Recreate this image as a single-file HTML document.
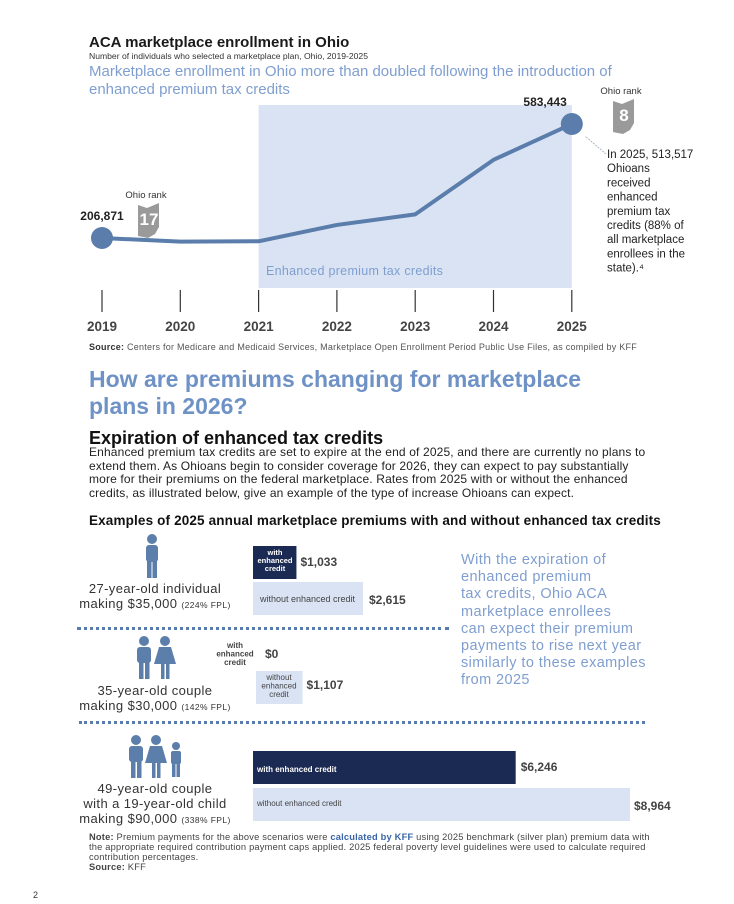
<!DOCTYPE html>
<html><head><meta charset="utf-8"><style>
body{margin:0;width:734px;height:904px;background:#fff;position:relative;font-family:"Liberation Sans",sans-serif;overflow:hidden;color:#333}
.a{position:absolute;white-space:nowrap}
.dots{position:absolute;border-top:3px dotted #5a7bb0;height:0}
</style></head><body>
<div class="a" style="left:89px;top:34px;font-size:15px;font-weight:bold;color:#1a1a1a">ACA marketplace enrollment in Ohio</div>
<div class="a" style="left:89px;top:51px;font-size:8.6px;color:#333">Number of individuals who selected a marketplace plan, Ohio, 2019-2025</div>
<div class="a" style="left:89px;top:63px;font-size:15px;line-height:18px;color:#7f9ed0">Marketplace enrollment in Ohio more than doubled following the introduction of<br>enhanced premium tax credits</div>

<svg id="chart" style="position:absolute;left:0;top:0" width="734" height="360"></svg>

<div class="a" style="left:89px;top:342px;font-size:9px;letter-spacing:0.25px;color:#555"><b style="color:#333">Source:</b> Centers for Medicare and Medicaid Services, Marketplace Open Enrollment Period Public Use Files, as compiled by KFF</div>

<div class="a" style="left:89px;top:366px;font-size:23px;line-height:27px;font-weight:bold;color:#6f92c6">How are premiums changing for marketplace<br>plans in 2026?</div>
<div class="a" style="left:89px;top:428px;font-size:18px;font-weight:bold;color:#111">Expiration of enhanced tax credits</div>
<div class="a" style="left:89px;top:446px;font-size:12px;letter-spacing:0.15px;line-height:13.5px;color:#222">Enhanced premium tax credits are set to expire at the end of 2025, and there are currently no plans to<br>extend them. As Ohioans begin to consider coverage for 2026, they can expect to pay substantially<br>more for their premiums on the federal marketplace. Rates from 2025 with or without the enhanced<br>credits, as illustrated below, give an example of the type of increase Ohioans can expect.</div>
<div class="a" style="left:89px;top:513px;font-size:13.5px;letter-spacing:0.15px;font-weight:bold;color:#111">Examples of 2025 annual marketplace premiums with and without enhanced tax credits</div>

<svg id="icons" style="position:absolute;left:0;top:0" width="734" height="904">
<g fill="#5b7eaa">
<g><circle cx="152" cy="539" r="5"/><rect x="146" y="545" width="12" height="17" rx="3"/><rect x="147" y="558" width="4.5" height="20"/><rect x="152.5" y="558" width="4.5" height="20"/></g>
<g><circle cx="144" cy="641" r="5"/><rect x="137" y="647" width="14" height="16" rx="3"/><rect x="139" y="660" width="4.5" height="19"/><rect x="145" y="660" width="4.5" height="19"/></g>
<g><circle cx="165" cy="641" r="5"/><path d="M159 647h12l5 17h-22z"/><rect x="161" y="663" width="3.5" height="16"/><rect x="166" y="663" width="3.5" height="16"/></g>
<g><circle cx="136" cy="740" r="5"/><rect x="129" y="746" width="14" height="16" rx="3"/><rect x="131" y="759" width="4.5" height="19"/><rect x="137" y="759" width="4.5" height="19"/></g>
<g><circle cx="156" cy="740" r="5"/><path d="M150 746h12l5 17h-22z"/><rect x="152" y="762" width="3.5" height="16"/><rect x="157" y="762" width="3.5" height="16"/></g>
<g><circle cx="176" cy="746" r="4"/><rect x="171" y="751" width="10" height="13" rx="2"/><rect x="172" y="762" width="3.5" height="15"/><rect x="176.5" y="762" width="3.5" height="15"/></g>
</g></svg>

<div class="a" style="left:70px;top:581px;width:170px;text-align:center;font-size:13px;letter-spacing:0.4px;line-height:15px;color:#333">27-year-old individual<br>making $35,000 <span style="font-size:8.5px">(224% FPL)</span></div>
<div class="dots" style="left:77px;top:627px;width:372px"></div>
<div class="a" style="left:70px;top:683px;width:170px;text-align:center;font-size:13px;letter-spacing:0.4px;line-height:15px;color:#333">35-year-old couple<br>making $30,000 <span style="font-size:8.5px">(142% FPL)</span></div>
<div class="dots" style="left:79px;top:721px;width:566px"></div>
<div class="a" style="left:70px;top:781px;width:170px;text-align:center;font-size:13px;letter-spacing:0.4px;line-height:15px;color:#333">49-year-old couple<br>with a 19-year-old child<br>making $90,000 <span style="font-size:8.5px">(338% FPL)</span></div>

<svg id="bars" style="position:absolute;left:0;top:0" width="734" height="904"></svg>

<div class="a" style="left:461px;top:552px;font-size:14.5px;letter-spacing:0.4px;line-height:17.2px;color:#7f9ed0">With the expiration of<br>enhanced premium<br>tax credits, Ohio ACA<br>marketplace enrollees<br>can expect their premium<br>payments to rise next year<br>similarly to these examples<br>from 2025</div>

<div class="a" style="left:89px;top:832px;font-size:9.3px;letter-spacing:0.2px;line-height:10px;color:#444"><b>Note:</b> Premium payments for the above scenarios were <b style="color:#3a64a8">calculated by KFF</b> using 2025 benchmark (silver plan) premium data with<br>the appropriate required contribution payment caps applied. 2025 federal poverty level guidelines were used to calculate required<br>contribution percentages.<br><b>Source:</b> KFF</div>
<div class="a" style="left:33px;top:890px;font-size:9px;color:#333">2</div>

<script>
const years=["2019","2020","2021","2022","2023","2024","2025"];
const enrollment=[206871,195000,196000,250000,285000,465000,583443];
const NS="http://www.w3.org/2000/svg";
function mk(p,t,a){const e=document.createElementNS(NS,t);for(const k in a)e.setAttribute(k,a[k]);p.appendChild(e);return e}
const ch=document.getElementById('chart');
const xS=i=>102+i*78.3;
const yS=v=>238-(v-206871)*(114/376572);
const sh=mk(ch,'rect',{x:xS(2),y:105,width:xS(6)-xS(2),height:183,fill:'#d9e3f3'});


const st=mk(ch,'text',{x:266,y:275,'font-size':12.5,'letter-spacing':0.3,fill:'#7f9ed0','font-family':'Liberation Sans'});st.textContent='Enhanced premium tax credits';


years.forEach((y,i)=>{
  const l=mk(ch,'line',{x1:xS(i),x2:xS(i),y1:290,y2:312,stroke:'#333','stroke-width':1.2});
  
  
  const t=mk(ch,'text',{x:xS(i),y:331,'text-anchor':'middle','font-size':13.5,'font-weight':'bold',fill:'#444','font-family':'Liberation Sans'});t.textContent=y;
  
  
});
const pl=mk(ch,'polyline',{points:enrollment.map((v,i)=>xS(i)+','+yS(v)).join(' '),fill:'none',stroke:'#5a7dab','stroke-width':4,'stroke-linejoin':'round'});


[0,6].forEach(i=>{
  const c=mk(ch,'circle',{cx:xS(i),cy:yS(enrollment[i]),r:11,fill:'#5a7dab'});
  
  
  const t=mk(ch,'text',{x:xS(i)+(i?-5:0),y:yS(enrollment[i])-18,'text-anchor':i?'end':'middle','font-size':12,'font-weight':'bold',fill:'#222','font-family':'Liberation Sans'});
  t.textContent=enrollment[i].toLocaleString('en-US');
  
  
});
function ohio(x,y,n,name){
  const g=mk(ch,'g',{});
  
  
  mk(g,'path',{d:`M${x} ${y+2}l9 3 12-5v24l-4 7-7 4-10-2z`,fill:'#9a9a9a'});
  const t=mk(g,'text',{x:x+11,y:y+22,'text-anchor':'middle','font-size':17,'font-weight':'bold',fill:'#fff','font-family':'Liberation Sans'});t.textContent=n;
  const r=mk(g,'text',{x:x+8,y:y-5,'text-anchor':'middle','font-size':9.5,fill:'#333','font-family':'Liberation Sans'});r.textContent='Ohio rank';
}
ohio(138,203,'17','ohio-rank-2019');
ohio(613,99,'8','ohio-rank-2025');
const ar=mk(ch,'line',{x1:606,y1:154,x2:585,y2:136,stroke:'#9ab','stroke-width':0.8,'stroke-dasharray':'2,1'});


const ann=["In 2025, 513,517","Ohioans","received","enhanced","premium tax","credits (88% of","all marketplace","enrollees in the","state).\u2074"];
ann.forEach((s,i)=>{const t=mk(ch,'text',{x:607,y:158+i*14.2,'font-size':11.5,fill:'#222','font-family':'Liberation Sans'});t.textContent=s;

});

// bars
const scenarios=["27-year-old","35-year-old couple","49-year-old family"];
const withCredit=[1033,0,6246];
const withoutCredit=[2615,1107,8964];
const b=document.getElementById('bars');
const bx=v=>v*(377/8964);
function lbl(x,y,lines,size,col,w,anchor){const t=mk(b,'text',{x:x,y:y,'font-size':size,fill:col,'font-weight':w||'normal','text-anchor':anchor||'start','font-family':'Liberation Sans'});
  lines.forEach((s,i)=>{const ts=mk(t,'tspan',{x:x,dy:i?size+0.5:0});ts.textContent=s;});return t;}
function val(x,y,v){const t=mk(b,'text',{x:x,y:y,'font-size':12,'font-weight':'bold',fill:'#444','font-family':'Liberation Sans'});t.textContent='$'+v.toLocaleString('en-US');
 
 }
// scenario 1
let r=mk(b,'rect',{x:253,y:546,width:bx(withCredit[0]),height:33,fill:'#1b2a52'});


lbl(275,555,['with','enhanced','credit'],7.5,'#fff','bold','middle');
val(bx(withCredit[0])+257,566,withCredit[0]);
r=mk(b,'rect',{x:253,y:582,width:bx(withoutCredit[0]),height:33,fill:'#d9e3f3'});


lbl(260,602,['without enhanced credit'],9,'#444');
val(bx(withoutCredit[0])+259,604,withoutCredit[0]);
// scenario 2
r=mk(b,'rect',{x:256,y:648,width:bx(withCredit[1]),height:20,fill:'#1b2a52'});


lbl(235,648,['with','enhanced','credit'],8,'#444','bold','middle');
val(bx(withCredit[1])+265,658,withCredit[1]);
r=mk(b,'rect',{x:256,y:671,width:bx(withoutCredit[1]),height:33,fill:'#d9e3f3'});


lbl(279,680,['without','enhanced','credit'],8,'#444','normal','middle');
val(bx(withoutCredit[1])+260,689,withoutCredit[1]);
// scenario 3
r=mk(b,'rect',{x:253,y:751,width:bx(withCredit[2]),height:33,fill:'#1b2a52'});


lbl(257,772,['with enhanced credit'],8,'#fff','bold');
val(bx(withCredit[2])+258,771,withCredit[2]);
r=mk(b,'rect',{x:253,y:788,width:bx(withoutCredit[2]),height:33,fill:'#d9e3f3'});


lbl(257,806,['without enhanced credit'],8,'#444');
val(bx(withoutCredit[2])+257,810,withoutCredit[2]);
</script>
</body></html>
